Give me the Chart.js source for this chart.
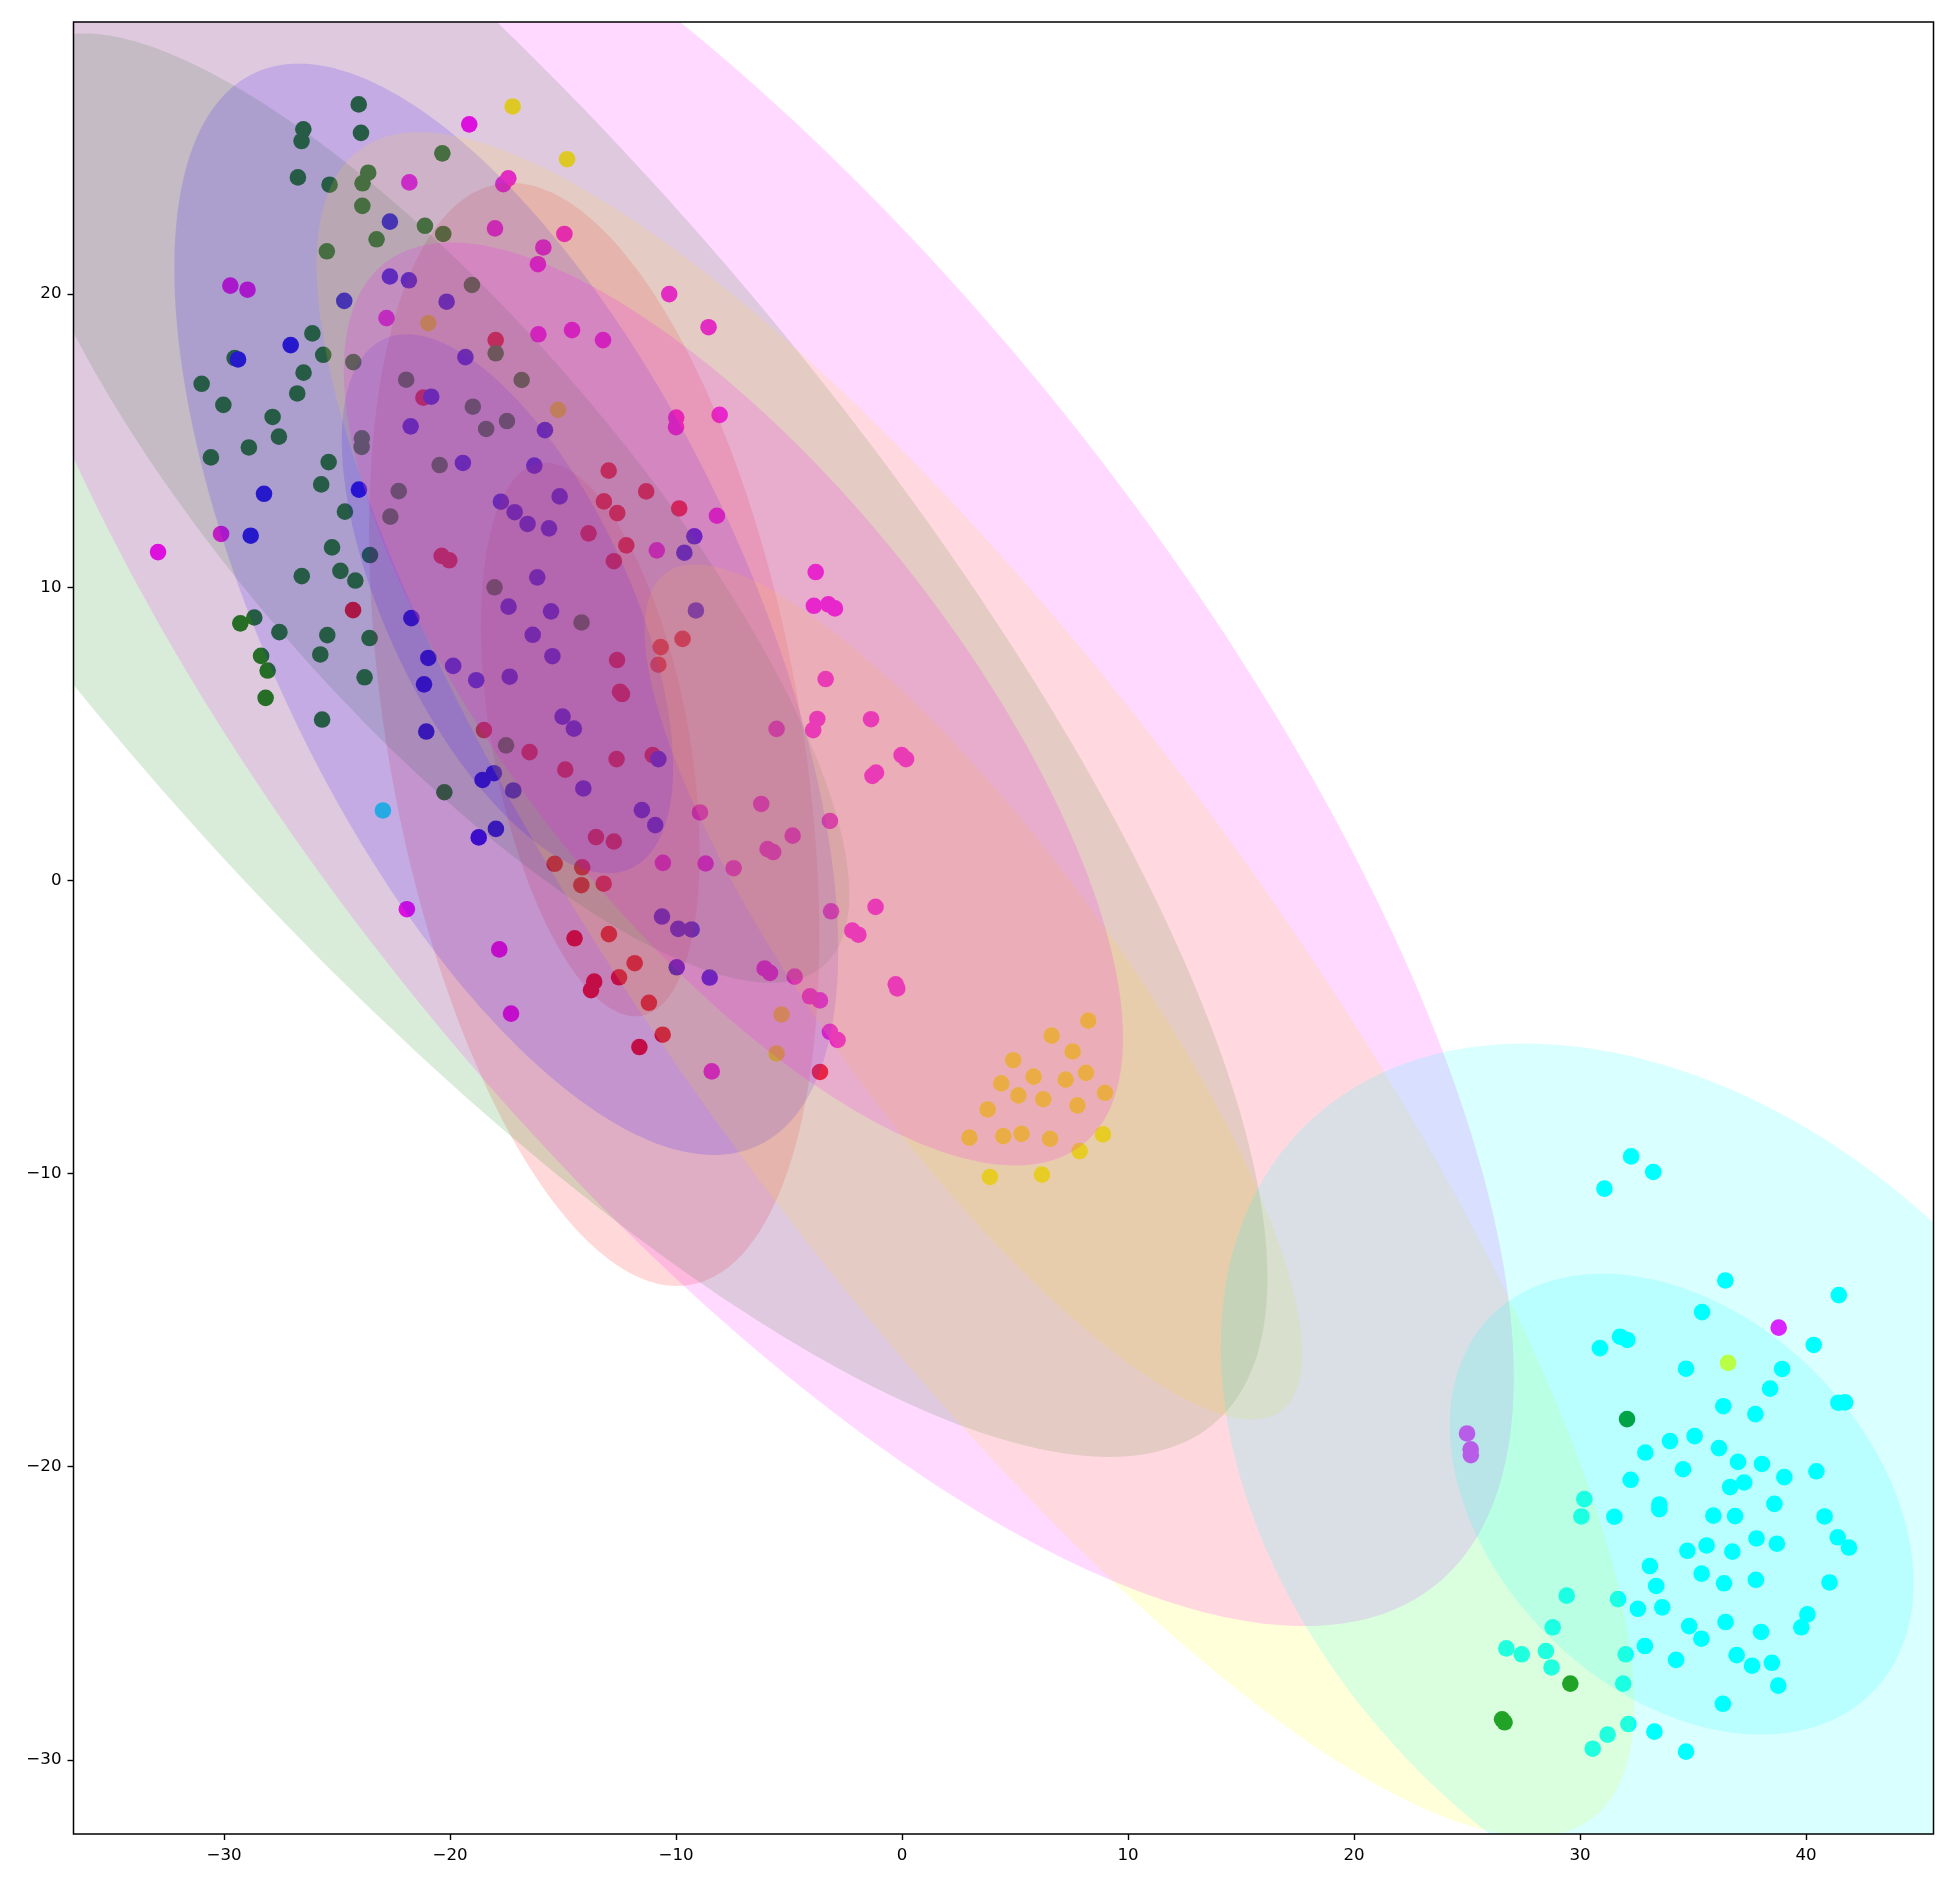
<!DOCTYPE html>
<html>
<head>
<meta charset="utf-8">
<title>Mixture components</title>
<style>
html, body { margin: 0; padding: 0; background: #fff; }
canvas { display: block; }
</style>
<script src="https://cdn.jsdelivr.net/npm/chart.js@4/dist/chart.umd.min.js"></script>
</head>
<body>
<canvas id="chart" width="1956" height="1885"></canvas>
<script>
const xTicks = [-30, -20, -10, 0, 10, 20, 30, 40];
const yTicks = [-30, -20, -10, 0, 10, 20];

// cluster members, x and y kept side by side
const redX = [-17.98, -21.18, -12.98, -11.32, -13.19, -12.60, -9.86, -13.87, -12.20, -12.75, -20.37, -20.03, -9.71, -10.68, -10.78, -12.61, -12.48, -12.39, -18.50, -16.48, -12.63, -11.03, -14.90, -13.54, -12.75, -15.37, -14.15, -14.19, -13.20, -14.49, -12.97, -11.83, -12.52, -13.62, -13.76, -11.20, -10.59, -11.62, -24.29, -3.63];
const redY = [18.43, 16.47, 13.98, 13.27, 12.93, 12.53, 12.69, 11.84, 11.43, 10.89, 11.07, 10.92, 8.24, 7.96, 7.36, 7.52, 6.44, 6.36, 5.13, 4.38, 4.14, 4.28, 3.78, 1.48, 1.33, 0.57, 0.45, -0.16, -0.11, -1.97, -1.83, -2.82, -3.30, -3.45, -3.74, -4.17, -5.26, -5.68, 9.22, -6.53];

const greenX = [-24.04, -23.94, -26.49, -26.57, -26.73, -25.33, -23.62, -23.87, -23.88, -20.34, -21.11, -20.30, -23.25, -25.45, -19.03, -26.09, -25.61, -24.28, -29.53, -26.48, -26.76, -30.99, -30.03, -27.85, -27.57, -28.90, -30.58, -25.37, -25.70, -23.90, -23.91, -21.94, -17.98, -18.99, -18.40, -17.48, -20.46, -22.27, -22.64, -24.65, -16.83, -18.03, -14.18, -17.52, -20.25, -25.22, -23.54, -26.56, -24.85, -24.19, -28.66, -29.28, -27.55, -25.43, -23.56, -25.74, -28.36, -28.07, -23.78, -28.16, -25.66, 32.08, 29.57, 26.55, 26.66];
const greenY = [26.47, 25.50, 25.62, 25.22, 23.98, 23.73, 24.14, 23.78, 23.01, 24.80, 22.33, 22.05, 21.87, 21.46, 20.31, 18.66, 17.93, 17.68, 17.82, 17.32, 16.61, 16.94, 16.22, 15.81, 15.14, 14.77, 14.43, 14.27, 13.51, 15.08, 14.79, 17.08, 17.98, 16.16, 15.40, 15.67, 14.17, 13.28, 12.41, 12.58, 17.07, 10.00, 8.80, 4.61, 3.01, 11.36, 11.10, 10.38, 10.56, 10.23, 8.97, 8.77, 8.47, 8.37, 8.27, 7.71, 7.66, 7.16, 6.93, 6.23, 5.49, -18.37, -27.39, -28.61, -28.71];

const blueX = [-22.66, -24.68, -27.05, -29.38, -28.23, -24.03, -28.82, -22.66, -21.82, -20.15, -19.32, -20.83, -21.74, -19.43, -17.75, -15.80, -16.27, -15.15, -17.14, -16.57, -15.62, -9.19, -9.63, -16.14, -9.12, -17.41, -15.53, -16.34, -21.71, -15.47, -20.96, -19.86, -18.84, -17.36, -21.15, -15.02, -14.52, -21.05, -10.78, -18.06, -18.56, -14.10, -17.20, -11.51, -10.92, -17.97, -18.73, -10.62, -9.90, -9.31, -9.97, -8.51];
const blueY = [22.47, 19.77, 18.26, 17.77, 13.19, 13.33, 11.76, 20.60, 20.47, 19.74, 17.85, 16.50, 15.49, 14.24, 12.92, 15.36, 14.15, 13.10, 12.56, 12.16, 12.01, 11.74, 11.18, 10.34, 9.21, 9.34, 9.18, 8.38, 8.95, 7.65, 7.59, 7.32, 6.83, 6.95, 6.69, 5.59, 5.18, 5.08, 4.14, 3.66, 3.43, 3.14, 3.07, 2.40, 1.89, 1.76, 1.47, -1.23, -1.65, -1.67, -2.96, -3.31];

const yellowX = [-17.23, -14.82, -20.96, -15.22, -5.33, -5.55, 8.24, 6.62, 7.55, 4.92, 5.82, 8.14, 7.24, 4.39, 8.98, 5.15, 6.25, 7.76, 3.79, 2.98, 4.48, 5.29, 6.55, 8.89, 7.86, 3.89, 6.19, 36.55];
const yellowY = [26.40, 24.60, 19.01, 16.05, -4.57, -5.90, -4.78, -5.29, -5.83, -6.13, -6.69, -6.56, -6.79, -6.92, -7.24, -7.33, -7.46, -7.67, -7.81, -8.77, -8.72, -8.64, -8.81, -8.66, -9.23, -10.11, -10.03, -16.45];

const magentaX = [-19.15, -21.80, -17.64, -17.42, -18.01, -22.81, -29.72, -28.96, -14.94, -15.87, -16.11, -10.30, -8.56, -16.09, -14.60, -13.23, -9.99, -10.00, -8.07, -8.19, -10.85, -3.82, -3.90, -3.26, -2.97, -3.38, -3.75, -3.93, -5.55, -1.37, -0.02, 0.18, -1.15, -1.31, -6.23, -3.19, -4.84, -5.95, -5.70, -7.45, -8.94, -10.58, -8.69, -21.91, -17.82, -6.08, -5.84, -17.30, -8.42, -32.92, -30.13, -1.17, -3.14, -2.20, -1.93, -4.75, -4.07, -3.63, -0.28, -0.21, -3.19, -2.85, 25.00, 25.16, 25.17, 38.79];
const magentaY = [25.79, 23.81, 23.75, 23.95, 22.24, 19.18, 20.29, 20.15, 22.05, 21.59, 21.02, 20.00, 18.87, 18.63, 18.77, 18.43, 15.79, 15.46, 15.88, 12.44, 11.26, 10.52, 9.37, 9.42, 9.28, 6.87, 5.51, 5.13, 5.17, 5.50, 4.28, 4.14, 3.68, 3.57, 2.61, 2.03, 1.53, 1.07, 0.97, 0.42, 2.32, 0.60, 0.58, -0.98, -2.35, -3.00, -3.15, -4.54, -6.51, 11.20, 11.82, -0.90, -1.05, -1.71, -1.85, -3.28, -3.95, -4.09, -3.54, -3.68, -5.16, -5.44, -18.86, -19.40, -19.60, -15.25];

const cyanX = [-22.97, 32.26, 33.24, 31.08, 36.43, 41.45, 35.40, 40.34, 30.88, 31.77, 32.09, 34.69, 38.94, 38.41, 36.34, 37.76, 41.43, 41.73, 35.07, 33.98, 32.89, 36.15, 36.99, 38.05, 34.56, 39.04, 40.46, 32.24, 37.26, 36.64, 30.19, 30.06, 31.52, 33.51, 33.51, 35.90, 36.86, 38.60, 40.82, 41.40, 41.90, 37.81, 38.71, 35.60, 34.75, 36.74, 33.09, 35.38, 36.37, 37.78, 33.37, 41.04, 29.41, 31.68, 32.56, 33.64, 40.06, 39.79, 36.44, 34.83, 35.37, 38.01, 28.79, 32.87, 36.93, 26.74, 27.42, 28.49, 32.02, 34.25, 37.61, 38.49, 28.74, 38.77, 31.91, 36.32, 32.14, 33.29, 31.22, 30.56, 34.69];
const cyanY = [2.39, -9.41, -9.94, -10.51, -13.64, -14.14, -14.72, -15.84, -15.95, -15.56, -15.67, -16.65, -16.66, -17.33, -17.93, -18.20, -17.81, -17.80, -18.95, -19.12, -19.51, -19.36, -19.83, -19.90, -20.08, -20.35, -20.15, -20.44, -20.53, -20.69, -21.10, -21.69, -21.70, -21.28, -21.44, -21.66, -21.68, -21.26, -21.69, -22.40, -22.75, -22.44, -22.62, -22.68, -22.86, -22.89, -23.38, -23.64, -23.97, -23.85, -24.06, -23.94, -24.39, -24.51, -24.84, -24.79, -25.03, -25.47, -25.29, -25.43, -25.86, -25.63, -25.47, -26.11, -26.42, -26.19, -26.39, -26.28, -26.39, -26.58, -26.78, -26.68, -26.84, -27.46, -27.39, -28.08, -28.77, -29.03, -29.13, -29.61, -29.71];

// component ellipses: centre, spread along each axis, correlation; one outer and one inner per colour
const ellipseHue = ["255,0,0", "255,0,0", "0,128,0", "0,128,0", "0,0,255", "0,0,255", "255,255,0", "255,255,0", "255,0,255", "255,0,255", "0,255,255", "0,255,255"];
const ellipseCx = [-13.62, -13.79, -20.77, -20.98, -17.51, -17.46, 3.25, 3.16, -7.38, -7.46, 34.80, 34.50];
const ellipseCy = [4.98, 4.81, 12.49, 12.70, 9.25, 9.44, -3.54, -3.80, 6.15, 6.02, -21.43, -21.27];
const ellipseSx = [9.96, 4.84, 36.94, 18.65, 14.69, 7.33, 29.15, 14.55, 34.45, 17.24, 20.70, 10.26];
const ellipseSy = [18.81, 9.44, 32.15, 16.19, 18.61, 9.19, 29.06, 14.58, 31.58, 15.74, 15.87, 7.86];
const ellipseRho = [-0.368, -0.412, -0.810, -0.814, -0.625, -0.608, -0.844, -0.846, -0.731, -0.724, -0.350, -0.342];

const clusterX = [blueX, greenX, redX, yellowX, magentaX, cyanX];
const clusterY = [blueY, greenY, redY, yellowY, magentaY, cyanY];
const clusterColor = ["#0000ff", "#008000", "#ff0000", "#ffff00", "#ff00ff", "#00ffff"];

const datasets = clusterX.map((xs, k) => ({
  data: xs.map((x, i) => ({ x, y: clusterY[k][i] })),
  pointRadius: 8.3,
  pointBorderWidth: 0,
  pointBackgroundColor: clusterColor[k],
  showLine: false,
  order: k,
}));

// ellipses go over the points, the frame over everything
const overlay = {
  id: "overlay",
  afterDatasetsDraw(chart) {
    const { ctx, chartArea: a, scales: { x: sx, y: sy } } = chart;
    ctx.save();
    ctx.beginPath();
    ctx.rect(a.left, a.top, a.right - a.left, a.bottom - a.top);
    ctx.clip();
    ellipseHue.forEach((hue, k) => {
      const phase = Math.acos(ellipseRho[k]);
      ctx.beginPath();
      for (let i = 0; i <= 360; i++) {
        const t = (i / 360) * 2 * Math.PI;
        const px = sx.getPixelForValue(ellipseCx[k] + ellipseSx[k] * Math.cos(t));
        const py = sy.getPixelForValue(ellipseCy[k] + ellipseSy[k] * Math.cos(t + phase));
        if (i === 0) ctx.moveTo(px, py);
        else ctx.lineTo(px, py);
      }
      ctx.closePath();
      ctx.fillStyle = `rgba(${hue},0.15)`;
      ctx.fill();
    });
    ctx.restore();
    ctx.strokeStyle = "#000";
    ctx.lineWidth = 1.5;
    ctx.strokeRect(a.left, a.top, a.right - a.left, a.bottom - a.top);
  },
};

const tickLabel = (v) => String(v).replace("-", "\u2212");

const axis = (values, min, max) => ({
  type: "linear",
  min,
  max,
  afterBuildTicks(scale) {
    scale.ticks = values.map((value) => ({ value }));
  },
  border: { display: false },
  grid: { drawOnChartArea: false, tickLength: 6, tickColor: "#000", tickWidth: 1.4 },
  ticks: {
    autoSkip: false,
    maxRotation: 0,
    color: "#000",
    padding: 6,
    font: { family: "DejaVu Sans", size: 16.67 },
    callback: tickLabel,
  },
});

new Chart(document.getElementById("chart"), {
  type: "scatter",
  data: { datasets },
  options: {
    responsive: false,
    animation: false,
    layout: { padding: { top: 22, right: 22.5 } },
    plugins: { legend: { display: false }, tooltip: { enabled: false } },
    scales: {
      x: { ...axis(xTicks, -36.66, 45.64), afterFit(s) { s.height = 51; } },
      y: { ...axis(yTicks, -32.52, 29.28), afterFit(s) { s.width = 73.5; } },
    },
  },
  plugins: [overlay],
});
</script>
</body>
</html>
